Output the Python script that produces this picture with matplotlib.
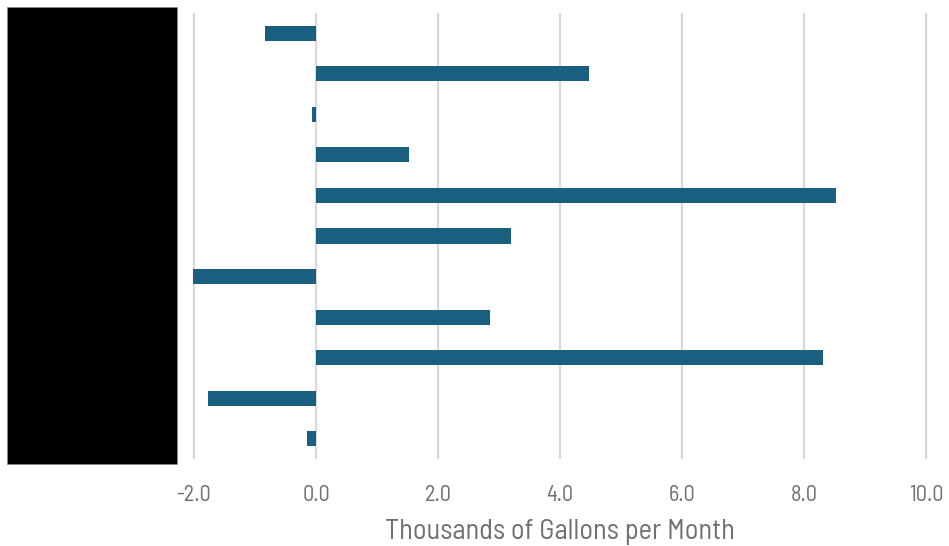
import matplotlib
matplotlib.use("Agg")
import matplotlib.pyplot as plt
from matplotlib.patches import Rectangle

# Monthly change in water use, top row first
values = [-0.84, 4.48, -0.07, 1.52, 8.52, 3.19, -2.02, 2.85, 8.31, -1.77, -0.15]
x_ticks = [-2, 0, 2, 4, 6, 8, 10]
x_tick_labels = ["-2.0", "0.0", "2.0", "4.0", "6.0", "8.0", "10.0"]
x_title = "Thousands of Gallons per Month"

plt.rcParams["font.family"] = ["Barlow Semi Condensed", "Archivo Narrow", "DejaVu Sans"]

W, H = 949, 546
fig = plt.figure(figsize=(W / 100, H / 100), dpi=100)

px = 61.0  # pixels per unit on the x axis
x0_px = 316.0
xmin, xmax = -2.1, 10.1
left = (x0_px + xmin * px) / W
width = (xmax - xmin) * px / W
top_px, bot_px = 13, 459
ax = fig.add_axes([left, (H - bot_px) / H, width, (bot_px - top_px) / H])

pos = list(range(len(values)))
ax.barh(pos, values, height=0.37, color="#1a5e80", zorder=3)
ax.set_ylim(len(values) - 0.5, -0.5)
ax.set_xlim(xmin, xmax)

ax.set_xticks(x_ticks)
ax.set_xticklabels(x_tick_labels)
ax.grid(axis="x", color="#d9d9d9", linewidth=1.6, zorder=0)
ax.set_yticks([])
for s in ax.spines.values():
    s.set_visible(False)
ax.tick_params(axis="x", length=0, pad=19, labelsize=16, labelcolor="#707070")

ax.set_xlabel(x_title, fontsize=20.5, color="#707070")
ax.xaxis.label.set_verticalalignment("baseline")
ax.xaxis.set_label_coords((560 - left * W) / (width * W), -(539 - bot_px) / (bot_px - top_px))

# redaction block over the category labels
fig.add_artist(Rectangle((7 / W, (H - 464) / H), 170 / W, 457 / H,
                         transform=fig.transFigure, facecolor="black",
                         edgecolor="#888888", linewidth=0.6))

fig.savefig("out.png", dpi=100)
